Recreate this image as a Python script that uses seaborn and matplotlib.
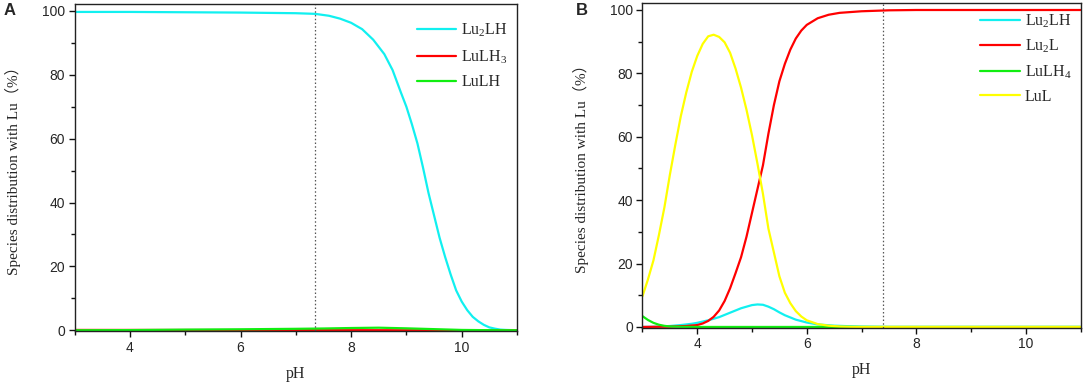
import pandas as pd
import numpy as np
import matplotlib
matplotlib.use('Agg')
import matplotlib.pyplot as plt
import seaborn as sns
from matplotlib.ticker import MultipleLocator

# --- values ---
# panel A
a_lu2lh_ph = [3.0, 4.0, 5.0, 6.0, 6.5, 7.0, 7.35, 7.6, 7.8, 8.0, 8.2, 8.4, 8.6, 8.75,
              8.9, 9.0, 9.1, 9.2, 9.3, 9.4, 9.5, 9.6, 9.7, 9.8, 9.9, 10.0, 10.1, 10.2,
              10.3, 10.4, 10.5, 10.6, 10.7, 10.8, 11.0]
a_lu2lh = [99.7, 99.7, 99.6, 99.5, 99.4, 99.3, 99.1, 98.5, 97.6, 96.3, 94.3, 91.0, 86.5, 81.5,
           74.5, 70.0, 64.5, 58.5, 51.0, 43.0, 36.0, 29.0, 23.0, 17.5, 12.5, 9.0, 6.3, 4.2,
           2.8, 1.7, 0.9, 0.5, 0.2, 0.1, 0.0]
a_lulh3_ph = [3.0, 4.0, 5.0, 6.0, 7.0, 8.0, 9.0, 11.0]
a_lulh3 = [0.1, 0.1, 0.08, 0.06, 0.04, 0.02, 0.0, 0.0]
a_lulh_ph = [3.0, 4.0, 5.0, 6.0, 7.0, 7.5, 8.0, 8.5, 9.0, 9.5, 10.0, 10.5, 11.0]
a_lulh = [0.0, 0.05, 0.2, 0.3, 0.45, 0.55, 0.7, 0.8, 0.6, 0.35, 0.1, 0.02, 0.0]

# panel B
b_lu2lh_ph = [3.0, 3.3, 3.5, 3.7, 3.9, 4.0, 4.2, 4.4, 4.6, 4.8, 5.0, 5.1, 5.2, 5.3, 5.4,
              5.5, 5.6, 5.8, 6.0, 6.2, 6.5, 7.0, 7.5, 11.0]
b_lu2lh = [0.0, 0.1, 0.3, 0.6, 1.0, 1.3, 2.1, 3.1, 4.5, 5.9, 6.9, 7.1, 7.0, 6.4, 5.6,
           4.6, 3.7, 2.3, 1.4, 0.8, 0.4, 0.1, 0.0, 0.0]
b_lu2l_ph = [3.0, 3.5, 3.8, 4.0, 4.1, 4.2, 4.3, 4.4, 4.5, 4.6, 4.7, 4.8, 4.9, 5.0, 5.1,
             5.2, 5.3, 5.4, 5.5, 5.6, 5.7, 5.8, 5.9, 6.0, 6.2, 6.4, 6.6, 7.0, 7.5, 8.0, 11.0]
b_lu2l = [0.0, 0.1, 0.3, 0.6, 1.1, 1.9, 3.2, 5.2, 8.2, 12.2, 17.0, 22.0, 28.5, 36.0, 43.5,
          51.0, 61.0, 70.0, 77.5, 83.0, 87.5, 91.0, 93.5, 95.3, 97.4, 98.5, 99.1, 99.6, 99.9, 100.0, 100.0]
b_lulh4_ph = [3.0, 3.1, 3.2, 3.3, 3.4, 3.5, 3.7, 4.0, 11.0]
b_lulh4 = [3.4, 2.2, 1.3, 0.7, 0.35, 0.15, 0.05, 0.0, 0.0]
b_lul_ph = [3.0, 3.1, 3.2, 3.3, 3.4, 3.5, 3.6, 3.7, 3.8, 3.9, 4.0, 4.1, 4.2, 4.3, 4.4, 4.5,
            4.6, 4.7, 4.8, 4.9, 5.0, 5.1, 5.2, 5.3, 5.4, 5.5, 5.6, 5.7, 5.8, 5.9, 6.0, 6.2,
            6.4, 6.6, 6.8, 7.0, 11.0]
b_lul = [9.7, 15.0, 21.0, 29.0, 37.7, 48.0, 57.5, 66.5, 74.0, 80.5, 85.5, 89.3, 91.7, 92.2, 91.5, 89.8,
         86.5, 81.5, 75.5, 68.5, 60.5, 51.5, 42.0, 31.0, 23.5, 16.0, 10.8, 7.5, 5.0, 3.3, 2.1, 0.9,
         0.4, 0.15, 0.05, 0.0, 0.0]

a_names = ['Lu$_\\mathrm{2}$LH', 'LuLH$_\\mathrm{3}$', 'LuLH']
b_names = ['Lu$_\\mathrm{2}$LH', 'Lu$_\\mathrm{2}$L', 'LuLH$_\\mathrm{4}$', 'LuL']
a_colors = ['#11f0f0', '#ff0000', '#11ee11']
b_colors = ['#11f0f0', '#ff0000', '#11ee11', '#ffff00']
a_vline = 7.35
b_vline = 7.4


def long_df(names, xs, ys):
    parts = []
    for n, x, y in zip(names, xs, ys):
        parts.append(pd.DataFrame({'pH': x, 'pct': y, 'species': n}))
    return pd.concat(parts, ignore_index=True)


df_a = long_df(a_names, [a_lu2lh_ph, a_lulh3_ph, a_lulh_ph], [a_lu2lh, a_lulh3, a_lulh])
df_b = long_df(b_names, [b_lu2lh_ph, b_lu2l_ph, b_lulh4_ph, b_lul_ph],
               [b_lu2lh, b_lu2l, b_lulh4, b_lul])

sns.set_style('ticks')
plt.rcParams['font.family'] = ['Liberation Sans', 'DejaVu Sans']
plt.rcParams['mathtext.fontset'] = 'custom'
plt.rcParams['mathtext.rm'] = 'Liberation Serif'
plt.rcParams['mathtext.it'] = 'Liberation Serif:italic'

fig = plt.figure(figsize=(10.84, 3.84), dpi=100)
ax_a = fig.add_axes([0.0689, 0.1383, 0.4080, 0.8514])
ax_b = fig.add_axes([0.5927, 0.1469, 0.4041, 0.8444])

serif = ['Liberation Serif', 'Noto Sans CJK SC']
ylab = 'Species distribution with Lu（%）'

for ax, df, names, cols, vx, leg_xy, lsp, letter, lx in [
        (ax_a, df_a, a_names, a_colors, a_vline, (0.773, 0.945), 0.55, 'A', 10),
        (ax_b, df_b, b_names, b_colors, b_vline, (0.770, 0.972), 0.5, 'B', 582)]:
    sns.lineplot(data=df, x='pH', y='pct', hue='species', hue_order=names,
                 palette=dict(zip(names, cols)), linewidth=1.6, ax=ax, sort=False)
    ax.axvline(vx, color='#555555', linestyle=(0, (1.2, 1.8)), linewidth=0.9)
    ax.set_xlim(3, 11)
    ax.set_ylim(-0.2, 102.2)
    ax.xaxis.set_major_locator(MultipleLocator(2))
    ax.xaxis.set_minor_locator(MultipleLocator(1))
    ax.yaxis.set_major_locator(MultipleLocator(20))
    ax.yaxis.set_minor_locator(MultipleLocator(10))
    ax.tick_params(which='major', length=4, width=1, labelsize=10, pad=3, color='#111111')
    ax.tick_params(which='minor', length=3, width=1, color='#111111')
    ax.set_xticks([4, 6, 8, 10])
    for s in ax.spines.values():
        s.set_visible(True)
        s.set_linewidth(1.0)
        s.set_color('#222222')
    ax.set_xlabel('pH', family=serif, fontsize=11.5, labelpad=8)
    ax.set_ylabel(ylab, family=serif, fontsize=11, labelpad=15)
    ax.legend(loc='upper left', bbox_to_anchor=leg_xy, frameon=False,
              prop={'family': 'Liberation Serif', 'size': 11.5}, handlelength=2.5,
              handletextpad=0.3, labelspacing=lsp, borderpad=0, borderaxespad=0)
    fig.text(lx / 1084, 1 - 10.5 / 384, letter, fontsize=12, fontweight='bold',
             ha='center', va='center')

ax_b.set_ylim(-0.2, 102.1)

fig.savefig('out.png', dpi=100)
